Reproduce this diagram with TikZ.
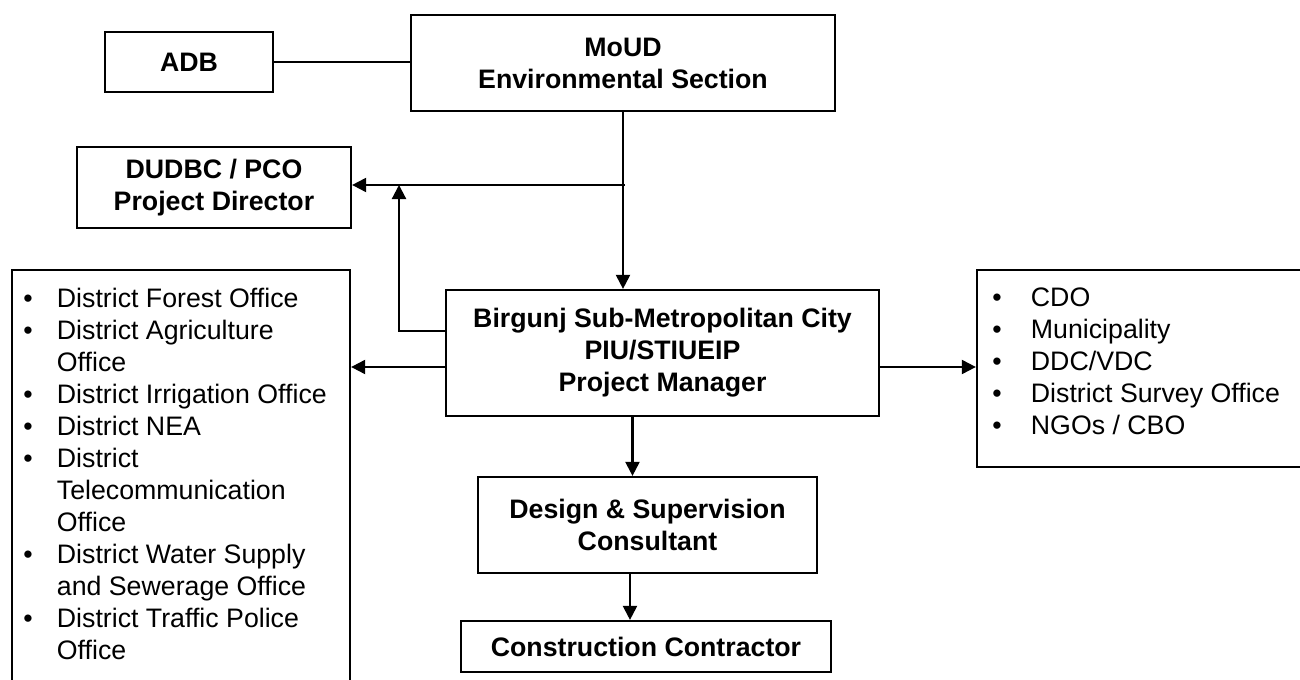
\documentclass[tikz,border=0pt]{standalone}
\usepackage{fontspec}
\setmainfont{Liberation Sans}
\usetikzlibrary{arrows.meta}
\newlength{\bhang}
\newcommand{\bitem}[1]{\par\hangindent=\bhang\hangafter=1\noindent\makebox[\bhang][l]{\textbullet}#1}
\begin{document}
\begin{tikzpicture}[x=0.01cm, y=-0.01cm, line width=0.6pt,
  font=\fontsize{7.6}{9.1}\selectfont,
  box/.style={draw, inner sep=0pt, align=center, font=\fontsize{7.6}{9.1}\selectfont\bfseries},
  listbox/.style={draw, inner sep=0pt},
  arr/.style={-{Triangle[length=4pt,width=4pt]}}]
\clip (0,0) rectangle (1300,680);
\node (adb) [box, minimum width=1.68cm, minimum height=0.60cm] at (189,62) {ADB};
\node (moud) [box, minimum width=4.24cm, minimum height=0.96cm] at (623,63) {MoUD\\Environmental Section};
\node (dudbc) [box, minimum width=2.74cm, minimum height=0.81cm] at (214,187.5) {DUDBC / PCO\\Project Director};
\node (birgunj) [box, minimum width=4.33cm, minimum height=1.26cm] at (662.5,353) {Birgunj Sub-Metropolitan City\\PIU/STIUEIP\\Project Manager};
\node (design) [box, minimum width=3.39cm, minimum height=0.96cm] at (647.5,525) {Design \& Supervision\\Consultant};
\node (contractor) [box, minimum width=3.70cm, minimum height=0.51cm] at (646,646.5) {Construction Contractor};
\node (offices) [listbox] at (181,485) {\parbox[t][4.3cm][t]{3.38cm}{\setlength{\bhang}{0.335cm}\leftskip=0.115cm\vspace*{5.2pt}%
  \bitem{District Forest Office}\bitem{District Agriculture\newline Office}\bitem{District Irrigation Office}\bitem{District NEA}%
  \bitem{District\newline Telecommunication\newline Office}\bitem{District Water Supply\newline and Sewerage Office}\bitem{District Traffic Police\newline Office}}};
\node (local) [listbox] at (1148.5,368.5) {\parbox[t][1.97cm][t]{3.43cm}{\setlength{\bhang}{0.385cm}\leftskip=0.155cm\vspace*{5.2pt}%
  \bitem{CDO}\bitem{Municipality}\bitem{DDC/VDC}\bitem{District Survey Office}\bitem{NGOs / CBO}}};
\coordinate (split) at (625,185);
\coordinate (riser) at (399,185);
\draw (adb.east) -- (adb.east -| moud.west);
\draw [arr] (moud.south) -- (moud.south |- birgunj.north);
\draw [arr] (split) -- (split -| dudbc.east);
\draw [arr] ([yshift=0.22cm]birgunj.west) -| (riser);
\draw [arr] ([yshift=-0.14cm]birgunj.west) -- ([yshift=-0.14cm]birgunj.west -| offices.east);
\draw [arr] ([yshift=-0.14cm]birgunj.east) -- ([yshift=-0.14cm]birgunj.east -| local.west);
\draw [arr] ([xshift=-0.3cm]birgunj.south) -- ([xshift=-0.3cm]birgunj.south |- design.north);
\draw [arr] ([xshift=-0.175cm]design.south) -- ([xshift=-0.175cm]design.south |- contractor.north);
\end{tikzpicture}
\end{document}
